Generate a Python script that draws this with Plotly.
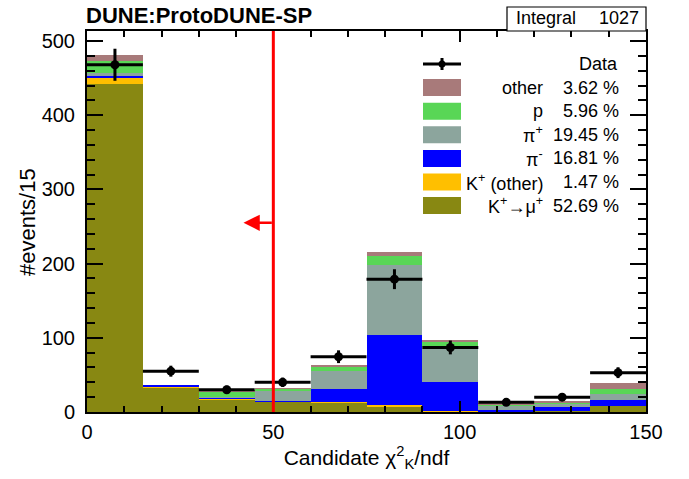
import plotly.graph_objects as go

# ---------------- data ----------------
bin_edges = [0, 15, 30, 45, 60, 75, 90, 105, 120, 135, 150]
bin_centers = [7.5, 22.5, 37.5, 52.5, 67.5, 82.5, 97.5, 112.5, 127.5, 142.5]
bin_halfwidth = [7.5] * 10

kmu = [442, 32.8, 17, 14, 13, 8, 1, 1, 1, 8]          # K+ -> mu+
kother = [9, 1, 1.5, 0.3, 1, 1.5, 0.5, 0, 0, 0]       # K+ (other)
pim = [1.5, 1.5, 1, 0.5, 17, 94.3, 39.4, 2, 6, 8]     # pi-
pip = [5, 0, 1, 13, 24.7, 94.2, 47, 6, 5, 8.3]        # pi+
prot = [15, 0, 7, 3.5, 5.3, 12.7, 7, 1.5, 0.5, 6.7]   # p
other = [9, 0, 2, 0.5, 2.8, 5.3, 1, 1.5, 2, 8.5]      # other

data_y = [468, 55, 30, 40, 74.5, 179, 87, 13, 20, 53]
data_err = [21.6, 7.4, 5.5, 6.3, 8.6, 13.4, 9.3, 3.6, 4.5, 7.3]

series_names = ["K<sup>+</sup>→μ<sup>+</sup>", "K<sup>+</sup> (other)", "π<sup>-</sup>",
                "π<sup>+</sup>", "p", "other"]
series_values = [kmu, kother, pim, pip, prot, other]
series_colors = ["#888812", "#ffbf00", "#0000ff", "#8ca59d", "#59d656", "#a87a7a"]
series_pct = ["52.69 %", "1.47 %", "16.81 %", "19.45 %", "5.96 %", "3.62 %"]

integral_label = "Integral"
integral_value = "1027"
cut_value = 50
arrow_tip = 42
arrow_y = 255

FONT = "Liberation Sans, Arial, sans-serif"
W, H = 689, 479
L, R, T, B = 87, 646, 31, 412  # plot area in pixels


def px(xp):
    return (xp - L) / (R - L)


def py(yp):
    return (B - yp) / (B - T)


fig = go.Figure()

for name, vals, col in zip(series_names, series_values, series_colors):
    fig.add_trace(go.Bar(x=bin_centers, y=vals, width=15, name=name,
                         marker=dict(color=col, line=dict(width=0)),
                         showlegend=False))

fig.add_trace(go.Scatter(
    x=bin_centers, y=data_y, mode="markers", name="Data", showlegend=False,
    marker=dict(color="black", size=9),
    error_x=dict(type="data", array=bin_halfwidth, color="black", thickness=3, width=0),
    error_y=dict(type="data", array=data_err, color="black", thickness=3, width=0),
))

shapes = []
annotations = []

# cut line
shapes.append(dict(type="line", xref="x", yref="paper", x0=cut_value, x1=cut_value,
                   y0=0, y1=1, line=dict(color="#ff0000", width=3), layer="above"))
annotations.append(dict(x=arrow_tip, y=arrow_y, ax=cut_value, ay=arrow_y, xref="x", yref="y",
                        axref="x", ayref="y", showarrow=True, arrowhead=2, arrowsize=1.3,
                        arrowwidth=2.5, arrowcolor="#ff0000", text=""))

# title
annotations.append(dict(text="<b>DUNE:ProtoDUNE-SP</b>", xref="paper", yref="paper",
                        x=px(84), y=py(15), xanchor="left", yanchor="middle",
                        showarrow=False, font=dict(family=FONT, size=22, color="black")))

# y-axis title
annotations.append(dict(text="#events/15", xref="paper", yref="paper", x=px(28), y=py(222),
                        xanchor="center", yanchor="middle", textangle=-90, showarrow=False,
                        font=dict(family=FONT, size=22, color="black")))

# integral box
shapes.append(dict(type="rect", xref="paper", yref="paper", x0=px(507), x1=px(646),
                   y0=py(31), y1=py(7), line=dict(color="black", width=1.2),
                   fillcolor="white", layer="above"))
annotations.append(dict(text=integral_label, xref="paper", yref="paper", x=px(514), y=py(18.5),
                        xanchor="left", yanchor="middle", showarrow=False,
                        font=dict(family=FONT, size=18, color="black")))
annotations.append(dict(text=integral_value, xref="paper", yref="paper", x=px(641), y=py(18.5),
                        xanchor="right", yanchor="middle", showarrow=False,
                        font=dict(family=FONT, size=18, color="black")))

# legend (manual)
row0 = 64
dy = 23.6
LFS = 18
# Data entry
shapes.append(dict(type="line", xref="paper", yref="paper", x0=px(423), x1=px(461),
                   y0=py(row0), y1=py(row0), line=dict(color="black", width=3)))
shapes.append(dict(type="line", xref="paper", yref="paper", x0=px(442), x1=px(442),
                   y0=py(row0 - 6), y1=py(row0 + 6), line=dict(color="black", width=3)))
shapes.append(dict(type="circle", xref="paper", yref="paper", x0=px(438.5), x1=px(445.5),
                   y0=py(row0 + 3.5), y1=py(row0 - 3.5), fillcolor="black",
                   line=dict(color="black", width=0)))
annotations.append(dict(text="Data", xref="paper", yref="paper", x=px(620), y=py(row0),
                        xanchor="right", yanchor="middle", showarrow=False,
                        font=dict(family=FONT, size=LFS, color="black")))
leg_order = [5, 4, 3, 2, 1, 0]
for i, k in enumerate(leg_order):
    yc = row0 + dy * (i + 1)
    shapes.append(dict(type="rect", xref="paper", yref="paper", x0=px(423), x1=px(461),
                       y0=py(yc + 8.5), y1=py(yc - 8.5), fillcolor=series_colors[k],
                       line=dict(width=0)))
    annotations.append(dict(text=series_names[k], xref="paper", yref="paper", x=px(545),
                            y=py(yc), xanchor="right", yanchor="middle", showarrow=False,
                            font=dict(family=FONT, size=LFS, color="black")))
    annotations.append(dict(text=series_pct[k], xref="paper", yref="paper", x=px(621),
                            y=py(yc), xanchor="right", yanchor="middle", showarrow=False,
                            font=dict(family=FONT, size=LFS, color="black")))

fig.update_layout(
    width=W, height=H,
    margin=dict(l=L, r=W - R, t=T, b=H - B),
    paper_bgcolor="white", plot_bgcolor="white",
    barmode="stack", bargap=0,
    showlegend=False,
    font=dict(family=FONT, size=20, color="black"),
    shapes=shapes, annotations=annotations,
    xaxis=dict(range=[0, 150], tickvals=[0, 50, 100, 150], ticks="inside", ticklen=11,
               tickwidth=1.5, tickcolor="black", showline=True, linecolor="black",
               linewidth=2, mirror="allticks", showgrid=False, zeroline=False,
               tickfont=dict(size=20), ticklabelstandoff=1,
               minor=dict(dtick=10, ticks="inside", ticklen=6, tickwidth=1.5,
                          tickcolor="black", showgrid=False),
               title=dict(text="Candidate χ<sup>2</sup><sub>K</sub>/ndf",
                          font=dict(size=21), standoff=4)),
    yaxis=dict(range=[0, 513.5], tickvals=[0, 100, 200, 300, 400, 500], ticks="inside",
               ticklen=16, tickwidth=1.5, tickcolor="black", showline=True,
               linecolor="black", linewidth=2, mirror="allticks", showgrid=False,
               zeroline=False, tickfont=dict(size=20), ticklabelstandoff=6,
               minor=dict(dtick=20, ticks="inside", ticklen=8, tickwidth=1.5,
                          tickcolor="black", showgrid=False)),
)

fig.write_html("out.html")
